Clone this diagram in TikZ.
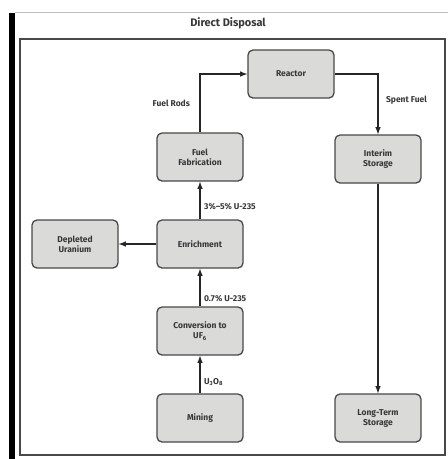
\documentclass[tikz,border=0pt]{standalone}
\usepackage{fontspec}
\setmainfont{Fira Sans}
\usetikzlibrary{positioning}
\definecolor{boxgray}{RGB}{218,218,216}
\definecolor{edgegray}{RGB}{72,72,72}
\definecolor{textgray}{RGB}{55,55,55}
\tikzset{
  stage/.style={draw=edgegray, line width=1.3pt, fill=boxgray, rounded corners=5pt,
    minimum width=86pt, minimum height=48pt, align=center, inner sep=2pt,
    font=\bfseries\fontsize{8.5}{10}\selectfont, text=textgray},
  flow/.style={-latex, line width=1.5pt, black!85},
  flowlabel/.style={font=\bfseries\fontsize{8.5}{10}\selectfont, text=textgray}
}
\begin{document}
\begin{tikzpicture}[x=1pt, y=-1pt]
		\useasboundingbox (0,0) rectangle (448,459);

		% Frame
		\fill[black] (9,13) rectangle (15,459);
		\draw[black!25, line width=1pt] (15,12) -- (448,12);
		\draw[edgegray, line width=1.2pt] (20,39) rectangle (445,455);
		\node[font=\bfseries\fontsize{11}{13}\selectfont, text=textgray] (title) at (228,23) {Direct Disposal};

		% Stages
		\node[stage] (reactor) at (291,74) {Reactor};
		\node[stage] (fab) at (200,157) {Fuel\\Fabrication};
		\node[stage] (interim) at (378,159) {Interim\\Storage};
		\node[stage] (enrich) at (200,244) {Enrichment};
		\node[stage] (depleted) at (75,244) {Depleted\\Uranium};
		\node[stage] (conv) at (200,331) {Conversion to\\UF\textsubscript{6}};
		\node[stage] (mining) at (200,418) {Mining};
		\node[stage] (longterm) at (378,418) {Long-Term\\Storage};

		% Fuel cycle flows
		\draw[flow] (mining.north) -- node[flowlabel, right, pos=0.3] {U\textsubscript{3}O\textsubscript{8}} (conv.south);
		\draw[flow] (conv.north) -- node[flowlabel, right, pos=0.2] {0.7\% U-235} (enrich.south);
		\draw[flow] (enrich.west) -- (depleted.east);
		\draw[flow] (enrich.north) -- node[flowlabel, right, pos=0.35] {3\%–5\% U-235} (fab.south);
		\draw[flow] (fab.north) |- node[flowlabel, left=6pt, pos=0.25] {Fuel Rods} (reactor.west);
		\draw[flow] (reactor.east) -| node[flowlabel, right=4pt, pos=0.72] {Spent Fuel} (interim.north);
		\draw[flow] (interim.south) -- (longterm.north);
	\end{tikzpicture}
\end{document}
